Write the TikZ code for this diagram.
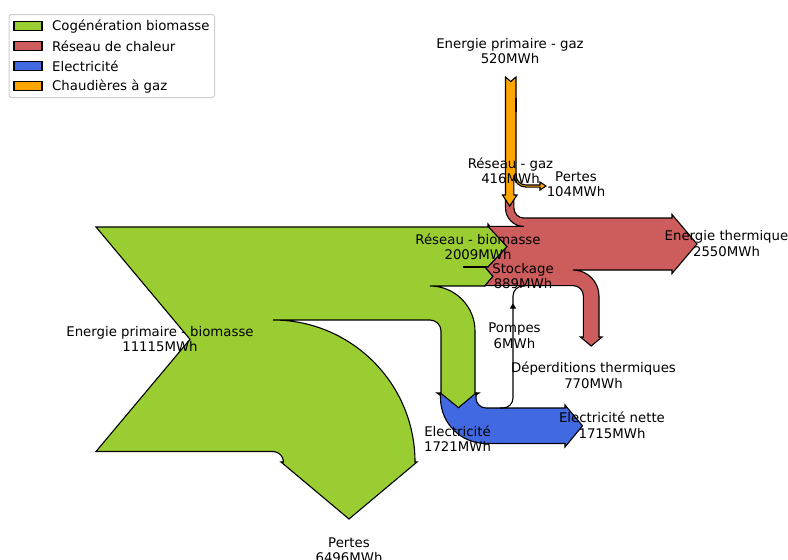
\documentclass[tikz,border=0pt]{standalone}
\usepackage{fontspec}
\setmainfont{DejaVu Sans}
\definecolor{cogen}{HTML}{9ACD32}
\definecolor{reseau}{HTML}{CD5C5C}
\definecolor{elec}{HTML}{4169E1}
\definecolor{gaz}{HTML}{FFA500}
\begin{document}
\begin{tikzpicture}[x=1pt,y=-1pt,
  flow/.style={draw=black, line width=1.1pt, line join=miter},
  lbl/.style={font=\fontsize{13.3}{15.5}\selectfont, align=center, inner sep=0pt},
  legtext/.style={font=\fontsize{13.3}{15.5}\selectfont, anchor=west, inner sep=0pt}]
\useasboundingbox (0,0) rectangle (788,560);
\clip (0,0) rectangle (788,560);

% Cogeneration biomasse
\path[flow, fill=cogen] (96,227) -- (488,227) -- (488,224) -- (507,247) -- (488,267)
  -- (485,267) -- (493,276.5) -- (485,286) -- (430,286)
  arc[start angle=-90, end angle=0, radius=45] -- (475,393) -- (479,393) -- (458,408)
  -- (437,393) -- (441,393) -- (441,331)
  arc[start angle=0, end angle=-90, radius=11] -- (273,320)
  arc[start angle=-90, end angle=0, radius=142] -- (417,462) -- (349,519) -- (281,462)
  -- (283.5,462) arc[start angle=0, end angle=-90, radius=10.5] -- (96,451.5)
  -- (190,339.3) -- cycle;
\draw[line width=1.1pt] (463,267) -- (488,267);

% Reseau de chaleur
\path[flow, fill=reseau] (505.5,197) -- (509.7,206) -- (513.9,197) -- (513.9,208)
  arc[start angle=180, end angle=90, radius=10] -- (672,218) -- (672,214.5) -- (697,244)
  -- (672,273.5) -- (672,270) -- (573,270)
  arc[start angle=-90, end angle=0, radius=26] -- (599,337) -- (602,337) -- (591.2,346)
  -- (580.4,337) -- (583.4,337) -- (583.4,296)
  arc[start angle=0, end angle=-90, radius=10.4] -- (485,285.6) -- (493,276.3)
  -- (485,267) -- (488,267) -- (507,246.7) -- (488,226.4) -- (523.9,226.4)
  arc[start angle=90, end angle=180, radius=18.4] -- cycle;

% Electricite
\path[flow, fill=elec] (440.5,393) -- (458.5,407.7) -- (476,393) -- (476,398)
  arc[start angle=180, end angle=90, radius=10] -- (565,408) -- (565,405) -- (582.5,425.8)
  -- (565,447) -- (565,443.5) -- (486,443.5)
  arc[start angle=90, end angle=180, radius=45.5] -- cycle;

% Pompes
\draw[line width=1.1pt] (500,408) -- (503,408) arc[start angle=90, end angle=0, radius=10]
  -- (513,296) arc[start angle=180, end angle=270, radius=10] -- (525,286);
\fill[black] (509.8,308.5) -- (513,303.5) -- (516.2,308.5) -- cycle;

% Chaudieres a gaz
\path[flow, fill=gaz] (505.5,77) -- (510.75,81.5) -- (516,77) -- (516,175)
  arc[start angle=180, end angle=90, radius=10] -- (540,185) -- (540,182) -- (546,186)
  -- (540,190) -- (540,187.1) -- (526,187.1)
  arc[start angle=90, end angle=180, radius=12.1] -- (513.9,195) -- (517,195)
  -- (509.7,206) -- (502.5,195) -- (505.5,195) -- cycle;
\draw[line width=2pt] (516.3,98) -- (516.3,112);

% Labels
\node[lbl] (gazin)   at (510,51)    {Energie primaire - gaz\\520MWh};
\node[lbl] (gazres)  at (510.5,171) {Réseau - gaz\\416MWh};
\node[lbl] (gazloss) at (576,184)   {Pertes\\104MWh};
\node[lbl] (biores)  at (478,247)   {Réseau - biomasse\\2009MWh};
\node[lbl] (stock)   at (523,276)   {Stockage\\889MWh};
\node[lbl] (therm)   at (726.5,243.5) {Energie thermique\\2550MWh};
\node[lbl] (pump)    at (514.5,335.5) {Pompes\\6MWh};
\node[lbl] (deperd)  at (593.5,375.5) {Déperditions thermiques\\770MWh};
\node[lbl] (elnet)   at (612,425.5) {Electricité nette\\1715MWh};
\node[lbl] (elec)    at (457.5,438.5) {Electricité\\1721MWh};
\node[lbl] (bioin)   at (160,339)   {Energie primaire - biomasse\\11115MWh};
\node[lbl] (bioloss) at (349,550)   {Pertes\\6496MWh};

% Legend
\draw[draw=black!20, fill=white, rounded corners=2.5pt, line width=1pt] (9,14.5) rectangle (214.5,97.5);
\path[flow, fill=cogen]  (14,21.7) rectangle (42,30.7);
\path[flow, fill=reseau] (14,41.7) rectangle (42,50.7);
\path[flow, fill=elec]   (14,61.7) rectangle (42,70.7);
\path[flow, fill=gaz]    (14,81.7) rectangle (42,90.7);
\node[legtext] (leg1) at (52,26.5) {Cogénération biomasse};
\node[legtext] (leg2) at (52,46.5) {Réseau de chaleur};
\node[legtext] (leg3) at (52,66.5) {Electricité};
\node[legtext] (leg4) at (52,86.5) {Chaudières à gaz};
\end{tikzpicture}
\end{document}
